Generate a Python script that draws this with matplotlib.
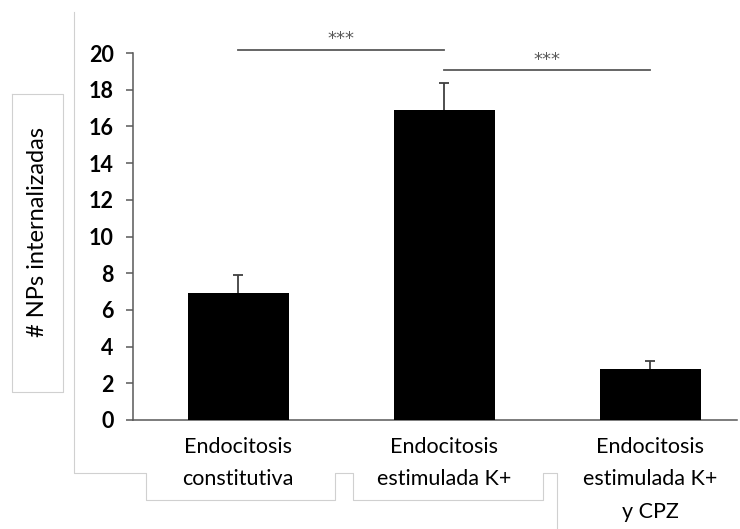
import matplotlib.pyplot as plt
from matplotlib.lines import Line2D

categories = ['Endocitosis\nconstitutiva', 'Endocitosis\nestimulada K+', 'Endocitosis\nestimulada K+\ny CPZ']
values = [6.9, 16.9, 2.8]
errors = [1.0, 1.45, 0.42]
y_ticks = [0, 2, 4, 6, 8, 10, 12, 14, 16, 18, 20]
# comparaciones: (barra a, barra b, altura linea, etiqueta)
comparisons = [(0, 1, 20.15, '***'), (1, 2, 19.05, '***')]

plt.rcParams['font.family'] = ['Lato', 'DejaVu Sans']

W, H = 740, 529
fig = plt.figure(figsize=(W / 100, H / 100), dpi=100)
ax = fig.add_axes([133 / W, 109 / H, (737 - 133) / W, (420 - 53) / H])

x = list(range(len(categories)))
tops = [v + e for v, e in zip(values, errors)]
ax.bar(x, values, width=0.49, color='black', zorder=3)
# solo la parte superior del error, con su tope
ax.vlines(x, values, tops, color='#404040', lw=1.3, zorder=2)
ax.plot(x, tops, linestyle='none', marker='_', ms=7, mew=1.3, color='#404040', zorder=2)

ax.set_xlim(-0.51, 2.42)
ax.set_ylim(0, 20)
ax.set_yticks(y_ticks)
ax.set_yticklabels([str(t) for t in y_ticks], fontweight='bold', fontsize=15.5)
ax.set_xticks(x)
ax.set_xticklabels(categories, fontsize=15.5, linespacing=1.8)
ax.tick_params(axis='x', length=0, pad=12)
ax.tick_params(axis='y', length=5, width=1.1, color='#595959', pad=9)

for side in ['top', 'right']:
    ax.spines[side].set_visible(False)
for side in ['left', 'bottom']:
    ax.spines[side].set_color('#595959')
    ax.spines[side].set_linewidth(1.1)

for a, b, h, lab in comparisons:
    ax.plot([a, b], [h, h], color='#595959', lw=1.3, clip_on=False)
    ax.text((a + b) / 2, h + 0.1, lab, ha='center', va='bottom', family='DejaVu Sans',
            fontsize=13, color='#595959', clip_on=False)

# etiqueta del eje y dentro de un cuadro
fig.text(38 / W, 1 - 232 / H, '# NPs internalizadas', rotation=90,
         ha='center', va='center', fontsize=17)
box = [(12, 94), (63, 94), (63, 392), (12, 392), (12, 94)]
fig.add_artist(Line2D([p[0] / W for p in box], [1 - p[1] / H for p in box],
                      color='#d0d0d0', lw=0.8))

# bordes de los cuadros de texto
path = [(74, 12), (74, 473), (146, 473), (146, 500), (335, 500), (335, 473),
        (353, 473), (353, 500), (543, 500), (543, 473), (557, 473), (557, 529)]
fig.add_artist(Line2D([p[0] / W for p in path], [1 - p[1] / H for p in path],
                      color='#d0d0d0', lw=0.8))

fig.savefig('out.png', dpi=100, facecolor='white')
